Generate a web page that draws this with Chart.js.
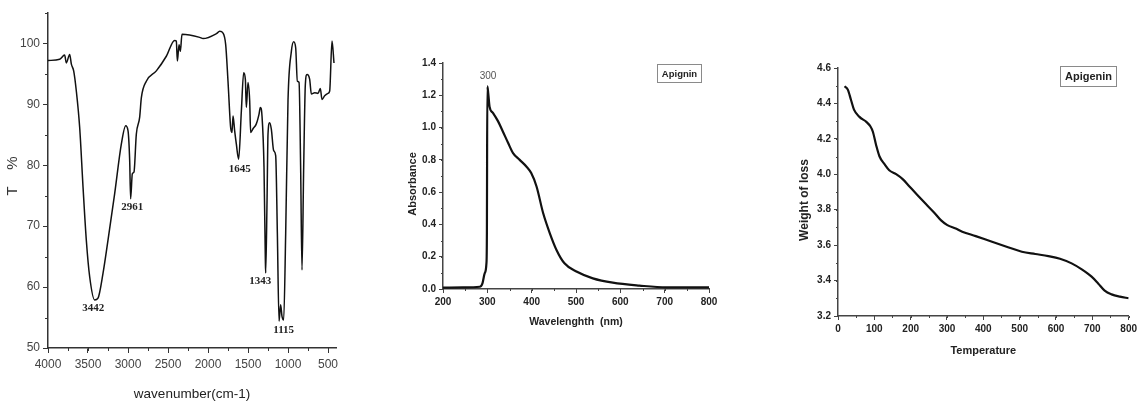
<!DOCTYPE html>
<html>
<head>
<meta charset="utf-8">
<script src="https://cdn.jsdelivr.net/npm/chart.js@4"></script>
<style>
  body { margin: 0; background: #fff; width: 1140px; height: 403px; overflow: hidden; position: relative; }
  canvas { position: absolute; top: 0; }
</style>
</head>
<body>
<canvas id="ftir" width="380" height="403" style="left:0"></canvas>
<canvas id="uv" width="400" height="403" style="left:380px"></canvas>
<canvas id="tga" width="380" height="403" style="left:760px"></canvas>
<script>
// FTIR spectrum
const ftirWavenumber = [4000, 3854, 3792, 3771, 3729, 3708, 3679, 3646, 3604, 3562, 3521, 3479, 3417, 3375, 3312, 3250, 3167, 3083, 3029, 3000,
  2979, 2967, 2946, 2925, 2896, 2854, 2833, 2771, 2646, 2521, 2417, 2396, 2383, 2362, 2346, 2325, 2104, 2062, 1896, 1854,
  1812, 1779, 1750, 1717, 1700, 1687, 1667, 1646, 1617, 1583, 1554, 1533, 1521, 1500, 1479, 1467, 1437, 1396, 1362, 1346,
  1325, 1300, 1283, 1279, 1262, 1250, 1229, 1208, 1179, 1154, 1133, 1112, 1092, 1075, 1054, 1029, 1000, 958, 929, 904,
  883, 862, 842, 825, 804, 783, 762, 729, 708, 667, 625, 596, 575, 542, 500, 479, 450, 425];
const ftirTransmittance = [97.2, 97.4, 98.1, 96.8, 98.2, 96.6, 95.5, 92.2, 86.2, 76.4, 67.7, 61.7, 57.9, 58.2, 62.3, 67.7, 75.3, 83.5, 86.5, 85.7,
  80.8, 74.5, 78.6, 78.9, 85.1, 87.9, 91.1, 93.8, 95.5, 97.9, 100.5, 100.4, 97.1, 99.8, 98.7, 101.5, 101.0, 100.8, 101.6, 102.0,
  101.7, 99.8, 93.8, 86.2, 85.4, 88.1, 85.7, 83.5, 81.0, 88.9, 95.2, 94.1, 89.5, 93.6, 90.6, 85.4, 86.0, 86.8, 88.4, 89.5,
  88.1, 79.7, 64.4, 62.3, 74.2, 85.1, 87.0, 85.9, 82.4, 81.6, 68.8, 54.4, 57.1, 55.2, 54.6, 68.8, 90.6, 98.7, 100.3, 99.3,
  93.8, 93.6, 79.7, 62.8, 79.7, 93.3, 94.9, 94.1, 91.7, 91.9, 91.8, 92.6, 90.8, 91.4, 91.8, 92.2, 100.4, 96.8];
const ftirTicksX = [4000, 3500, 3000, 2500, 2000, 1500, 1000, 500];
const ftirTicksY = [50, 60, 70, 80, 90, 100];
const ftirPeakText = ['3442', '2961', '1645', '1343', '1115'];
const ftirPeakX = [3433, 2946, 1604, 1346, 1054];
const ftirPeakY = [56.5, 73.1, 79.4, 61.0, 52.9];

// UV-Vis spectrum
const uvWavelength = [200, 245, 283, 289, 294, 298, 299, 300, 302, 305, 313, 324, 335, 347, 358, 373, 388, 399, 411, 426,
  441, 456, 474, 501, 538, 583, 643, 704, 800];
const uvAbsorbance = [0.008, 0.01, 0.014, 0.035, 0.097, 0.16, 0.345, 1.255, 1.214, 1.13, 1.09, 1.04, 0.976, 0.904, 0.842, 0.80, 0.759, 0.718, 0.635, 0.469,
  0.345, 0.242, 0.159, 0.108, 0.066, 0.039, 0.021, 0.01, 0.01];
const uvTicksX = [200, 300, 400, 500, 600, 700, 800];
const uvTicksY = [0, 0.2, 0.4, 0.6, 0.8, 1.0, 1.2, 1.4];
const uvPeakText = ['300'];
const uvPeakX = [301.5];
const uvPeakY = [1.32];

// TGA curve
const tgaTemperature = [18, 27, 36, 44, 59, 78, 89, 96, 105, 114, 128, 141, 160, 178, 196, 219, 242, 265, 283, 301,
  324, 342, 379, 424, 470, 506, 543, 579, 611, 643, 671, 698, 716, 734, 753, 776, 800];
const tgaWeight = [4.497, 4.478, 4.418, 4.365, 4.324, 4.296, 4.271, 4.24, 4.164, 4.102, 4.057, 4.023, 4.001, 3.973, 3.933, 3.882, 3.832, 3.783, 3.741, 3.713,
  3.694, 3.676, 3.651, 3.619, 3.587, 3.563, 3.55, 3.538, 3.523, 3.497, 3.463, 3.422, 3.384, 3.343, 3.322, 3.309, 3.30];
const tgaTicksX = [0, 100, 200, 300, 400, 500, 600, 700, 800];
const tgaTicksY = [3.2, 3.4, 3.6, 3.8, 4.0, 4.2, 4.4, 4.6];

const sans = "'Liberation Sans', Arial, sans-serif";
const serif = "'Liberation Serif', 'Times New Roman', serif";

const toPoints = (xs, ys) => xs.map((x, i) => ({ x: x, y: ys[i] }));
const toNotes = (texts, xs, ys) => texts.map((t, i) => ({ text: t, x: xs[i], y: ys[i] }));

// minor ticks, peak labels, rotated y title and the framed name label
const decor = {
  id: 'decor',
  afterDraw(chart, args, o) {
    const ctx = chart.ctx;
    const xs = chart.scales.x, ys = chart.scales.y;
    ctx.save();
    ctx.strokeStyle = o.tickColor;
    ctx.lineWidth = 1;
    ctx.beginPath();
    for (let v = Math.ceil(xs.min / o.minorX - 1e-9) * o.minorX; v <= xs.max + 1e-9; v += o.minorX) {
      const px = Math.round(xs.getPixelForValue(v)) + 0.5;
      ctx.moveTo(px, xs.top);
      ctx.lineTo(px, xs.top + o.minorLen);
    }
    for (let v = Math.ceil(ys.min / o.minorY - 1e-9) * o.minorY; v <= ys.max + 1e-9; v += o.minorY) {
      const py = Math.round(ys.getPixelForValue(v)) + 0.5;
      ctx.moveTo(ys.right, py);
      ctx.lineTo(ys.right - o.minorLen, py);
    }
    ctx.stroke();

    ctx.textAlign = 'center';
    ctx.textBaseline = 'middle';
    (o.notes || []).forEach(n => {
      ctx.font = o.noteFont;
      ctx.fillStyle = o.noteColor;
      ctx.fillText(n.text, xs.getPixelForValue(n.x), ys.getPixelForValue(n.y));
    });

    if (o.yTitle) {
      ctx.save();
      ctx.translate(o.yTitle.x, o.yTitle.y);
      ctx.rotate(-Math.PI / 2);
      ctx.font = o.yTitle.font;
      ctx.fillStyle = o.yTitle.color;
      ctx.fillText(o.yTitle.text, 0, 0);
      ctx.restore();
    }

    if (o.box) {
      const b = o.box;
      ctx.strokeStyle = '#8a8a8a';
      ctx.lineWidth = 1;
      ctx.strokeRect(b.x + 0.5, b.y + 0.5, b.w, b.h);
      ctx.font = b.font;
      ctx.fillStyle = '#222';
      ctx.fillText(b.text, b.x + b.w / 2 + 0.5, b.y + b.h / 2 + 1);
    }
    ctx.restore();
  }
};

function axis(opts) {
  return {
    type: 'linear',
    min: opts.min,
    max: opts.max,
    reverse: !!opts.reverse,
    afterFit: opts.fit,
    afterBuildTicks: scale => { scale.ticks = opts.values.map(v => ({ value: v })); },
    border: { color: opts.color, width: 1.5 },
    grid: { drawOnChartArea: false, drawTicks: true, tickLength: opts.tickLength, color: opts.color, tickColor: opts.color },
    ticks: {
      autoSkip: false,
      maxRotation: 0,
      padding: opts.padding,
      color: opts.labelColor,
      font: opts.font,
      callback: opts.format || (v => String(v))
    },
    title: opts.title || { display: false }
  };
}

function lineDataset(points, width, color) {
  return {
    data: points,
    showLine: true,
    borderColor: color,
    borderWidth: width,
    pointRadius: 0,
    fill: false,
    cubicInterpolationMode: 'monotone'
  };
}

const common = {
  responsive: false,
  animation: false,
  events: [],
  plugins: { legend: { display: false }, tooltip: { enabled: false } }
};

// Panel 1: FTIR
new Chart(document.getElementById('ftir'), {
  type: 'scatter',
  data: { datasets: [lineDataset(toPoints(ftirWavenumber, ftirTransmittance), 1.5, '#111')] },
  options: {
    ...common,
    layout: { padding: { left: 0, right: 44, top: 13, bottom: 0 } },
    scales: {
      x: axis({
        min: 400, max: 4000, values: ftirTicksX, reverse: true, color: '#333', labelColor: '#444', tickLength: 5, padding: 4,
        font: { family: sans, size: 12 },
        fit: s => { s.height = 55; },
        title: { display: true, text: 'wavenumber(cm-1)', color: '#222', font: { family: sans, size: 13.5 }, padding: { top: 0, bottom: 1 } }
      }),
      y: axis({
        min: 50, max: 105, values: ftirTicksY, color: '#333', labelColor: '#444', tickLength: 5, padding: 3,
        font: { family: sans, size: 12 },
        fit: s => { s.width = 48; }
      })
    },
    plugins: {
      ...common.plugins,
      decor: {
        tickColor: '#333', minorX: 250, minorY: 5, minorLen: 3,
        notes: toNotes(ftirPeakText, ftirPeakX, ftirPeakY),
        noteFont: 'bold 11px ' + serif, noteColor: '#222',
        yTitle: { text: 'T    %', x: 13, y: 176, font: '15px ' + sans, color: '#333' }
      }
    }
  },
  plugins: [decor]
});

// Panel 2: UV-Vis
new Chart(document.getElementById('uv'), {
  type: 'scatter',
  data: { datasets: [lineDataset(toPoints(uvWavelength, uvAbsorbance), 2.2, '#111')] },
  options: {
    ...common,
    layout: { padding: { left: 23, right: 71, top: 63, bottom: 74 } },
    scales: {
      x: axis({
        min: 200, max: 800, values: uvTicksX, color: '#444', labelColor: '#222', tickLength: 4, padding: 3,
        font: { family: sans, size: 10, weight: 'bold' },
        fit: s => { s.height = 40; },
        title: { display: true, text: 'Wavelenghth  (nm)', color: '#222', font: { family: sans, size: 10.5, weight: 'bold' }, padding: { top: 0, bottom: 1 } }
      }),
      y: axis({
        min: 0, max: 1.4, values: uvTicksY, color: '#444', labelColor: '#222', tickLength: 4, padding: 3,
        font: { family: sans, size: 10, weight: 'bold' },
        format: v => v.toFixed(1),
        fit: s => { s.width = 40; }
      })
    },
    plugins: {
      ...common.plugins,
      decor: {
        tickColor: '#444', minorX: 50, minorY: 0.1, minorLen: 2,
        notes: toNotes(uvPeakText, uvPeakX, uvPeakY),
        noteFont: '10px ' + sans, noteColor: '#555',
        yTitle: { text: 'Absorbance', x: 33, y: 184, font: 'bold 11px ' + sans, color: '#222' },
        box: { text: 'Apignin', x: 277, y: 64, w: 44, h: 18, font: 'bold 9.5px ' + sans }
      }
    }
  },
  plugins: [decor]
});

// Panel 3: TGA
new Chart(document.getElementById('tga'), {
  type: 'scatter',
  data: { datasets: [lineDataset(toPoints(tgaTemperature, tgaWeight), 2.2, '#111')] },
  options: {
    ...common,
    layout: { padding: { left: 38, right: 9, top: 68, bottom: 42 } },
    scales: {
      x: axis({
        min: 0, max: 800, values: tgaTicksX, color: '#444', labelColor: '#222', tickLength: 4, padding: 3,
        font: { family: sans, size: 10, weight: 'bold' },
        fit: s => { s.height = 45; },
        title: { display: true, text: 'Temperature', color: '#222', font: { family: sans, size: 11, weight: 'bold' }, padding: { top: 0, bottom: 3 } }
      }),
      y: axis({
        min: 3.2, max: 4.6, values: tgaTicksY, color: '#444', labelColor: '#222', tickLength: 4, padding: 3,
        font: { family: sans, size: 10, weight: 'bold' },
        format: v => v.toFixed(1),
        fit: s => { s.width = 40; }
      })
    },
    plugins: {
      ...common.plugins,
      decor: {
        tickColor: '#444', minorX: 50, minorY: 0.1, minorLen: 2,
        yTitle: { text: 'Weight of loss', x: 45, y: 200, font: 'bold 12px ' + sans, color: '#222' },
        box: { text: 'Apigenin', x: 300, y: 66, w: 56, h: 20, font: 'bold 11px ' + sans }
      }
    }
  },
  plugins: [decor]
});
</script>
</body>
</html>
